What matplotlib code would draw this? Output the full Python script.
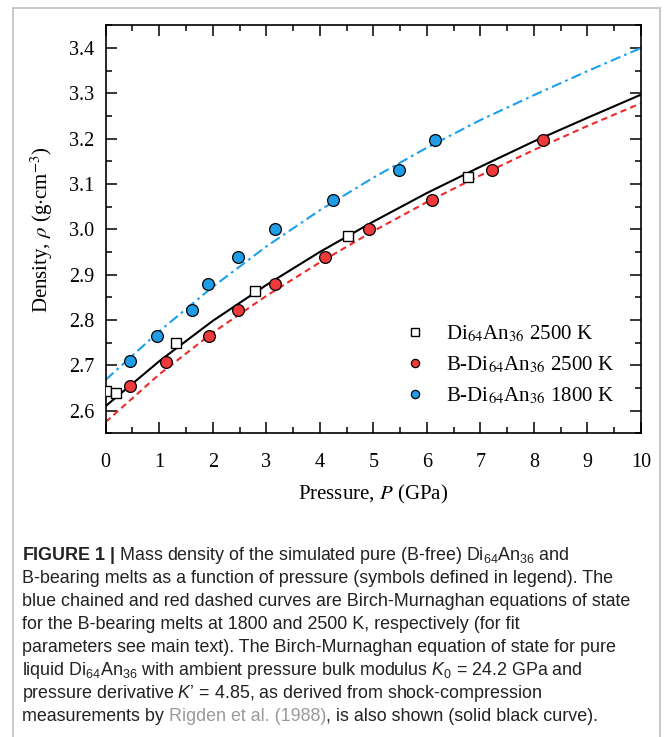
import numpy as np
from matplotlib import pyplot as plt
from matplotlib.patches import Rectangle

plt.rcParams['mathtext.fontset'] = 'custom'
plt.rcParams['mathtext.rm'] = 'Liberation Sans'
plt.rcParams['mathtext.it'] = 'Liberation Sans:italic'
plt.rcParams['mathtext.bf'] = 'Liberation Sans:bold'

# Di64An36 2500 K (squares)
sq_p = [0.0, 0.19, 1.32, 2.78, 4.52, 6.77]
sq_rho = [2.643, 2.639, 2.750, 2.863, 2.986, 3.115]

# B-Di64An36 2500 K (red circles)
red_p = [0.45, 1.13, 1.93, 2.48, 3.17, 4.09, 4.92, 6.10, 7.21, 8.16]
red_rho = [2.655, 2.708, 2.764, 2.822, 2.880, 2.939, 3.000, 3.065, 3.130, 3.198]

# B-Di64An36 1800 K (blue circles)
blue_p = [0.45, 0.95, 1.61, 1.92, 2.48, 3.17, 4.25, 5.48, 6.15]
blue_rho = [2.709, 2.764, 2.822, 2.880, 2.940, 3.001, 3.065, 3.130, 3.198]

# Birch-Murnaghan curves
curve_p = [0, 1, 2, 3, 4, 5, 6, 7, 8, 9, 10]
black_rho = [2.610, 2.709, 2.798, 2.877, 2.950, 3.017, 3.080, 3.138, 3.194, 3.246, 3.297]
red_curve = [2.575, 2.680, 2.772, 2.853, 2.927, 2.996, 3.060, 3.119, 3.175, 3.228, 3.278]
blue_curve = [2.668, 2.775, 2.873, 2.962, 3.042, 3.114, 3.180, 3.241, 3.296, 3.349, 3.400]

labels = [r'Di$_{64}$An$_{36}$ 2500 K',
          r'B-Di$_{64}$An$_{36}$ 2500 K',
          r'B-Di$_{64}$An$_{36}$ 1800 K']

serif = 'Liberation Serif'
W, H = 665, 737
fig = plt.figure(figsize=(W / 100, H / 100), dpi=100)

# light grey frame round the figure
fig.patches.append(Rectangle((13 / W, -0.05), (660 - 13) / W, 1.05 - 8 / H,
                             transform=fig.transFigure, fill=False,
                             edgecolor='#c4c4c4', lw=1.3))

ax = fig.add_axes([105.7 / W, 1 - 433.3 / H, (641 - 105.7) / W, (433.3 - 25.3) / H])

ax.plot(curve_p, blue_curve, color='#1ba0ec', lw=1.5, ls=(0, (5, 2, 1.3, 2)), zorder=2)
ax.plot(curve_p, black_rho, color='black', lw=1.5, zorder=2)
ax.plot(curve_p, red_curve, color='#f02a2a', lw=1.5, ls=(0, (3, 2)), zorder=2)

ax.plot(sq_p, sq_rho, 's', ms=7.5, mfc='white', mec='black', mew=1.0, zorder=3, label=labels[0])
ax.plot(red_p, red_rho, 'o', ms=8.5, mfc='#ee3a3a', mec='black', mew=0.9, zorder=3, label=labels[1])
ax.plot(blue_p, blue_rho, 'o', ms=8.5, mfc='#1f9de6', mec='black', mew=0.9, zorder=3, label=labels[2])

ax.set_xlim(0, 10)
ax.set_ylim(2.55, 3.45)
ax.set_xticks(np.arange(0, 11, 1))
ax.set_xticks(np.arange(0, 10.01, 0.5), minor=True)
ax.set_yticks([2.6, 2.7, 2.8, 2.9, 3.0, 3.1, 3.2, 3.3, 3.4])
ax.set_yticks(np.arange(2.55, 3.451, 0.05), minor=True)
ax.tick_params(which='both', direction='in', top=True, right=True, width=1.1,
               labelsize=14.5)
ax.tick_params(axis='x', pad=14)
ax.tick_params(axis='y', pad=8)
ax.tick_params(which='major', length=8)
ax.tick_params(which='minor', length=4.5)
for lab in ax.get_xticklabels() + ax.get_yticklabels():
    lab.set_fontfamily(serif)
for s in ax.spines.values():
    s.set_linewidth(1.2)

ax.set_xlabel(r'Pressure, $P$ (GPa)', fontsize=15, family=serif, math_fontfamily='stix', labelpad=8)
ax.set_ylabel(r'Density, $\rho$ (g$\cdot$cm$^{-3}$)', fontsize=15, family=serif,
              math_fontfamily='stix', labelpad=10)

leg = ax.legend(loc='lower right', bbox_to_anchor=(0.985, 0.02), frameon=False,
                markerscale=0.7, handlelength=1.0, handletextpad=1.0, labelspacing=0.5,
                prop={'family': serif, 'size': 15, 'math_fontfamily': 'stix'})

# caption
cap = dict(fontsize=12.9, family='Liberation Sans', color='#222222', va='baseline', ha='left')
x0 = 22 / W
base = [560, 583, 606, 629, 652, 675, 698, 721]
lines = [
    r'$\mathbf{FIGURE\ 1\ |}$ Mass density of the simulated pure (B-free) Di$_{64}$An$_{36}$ and',
    'B-bearing melts as a function of pressure (symbols defined in legend). The',
    'blue chained and red dashed curves are Birch-Murnaghan equations of state',
    'for the B-bearing melts at 1800 and 2500 K, respectively (for fit',
    'parameters see main text). The Birch-Murnaghan equation of state for pure',
    r'liquid Di$_{64}$An$_{36}$ with ambient pressure bulk modulus $K_{\mathit{0}}$ = 24.2 GPa and',
    'pressure derivative $K$\u2019 = 4.85, as derived from shock-compression',
]
for y, txt in zip(base, lines):
    fig.text(x0, 1 - y / H, txt, **cap)

# last line: grey citation in the middle
t1 = fig.text(x0, 1 - base[7] / H, 'measurements by ', **cap)
cap_b = dict(cap, va='bottom')
cap_g = dict(cap_b, color='#9a9a9a')
t2 = fig.add_artist(plt.Annotation('Rigden et al. (1988)', xy=(1, 0), xycoords=t1, **cap_g))
t3 = fig.add_artist(plt.Annotation(', is also shown (solid black curve).', xy=(1, 0), xycoords=t2, **cap_b))

fig.savefig('out.png', dpi=100)
